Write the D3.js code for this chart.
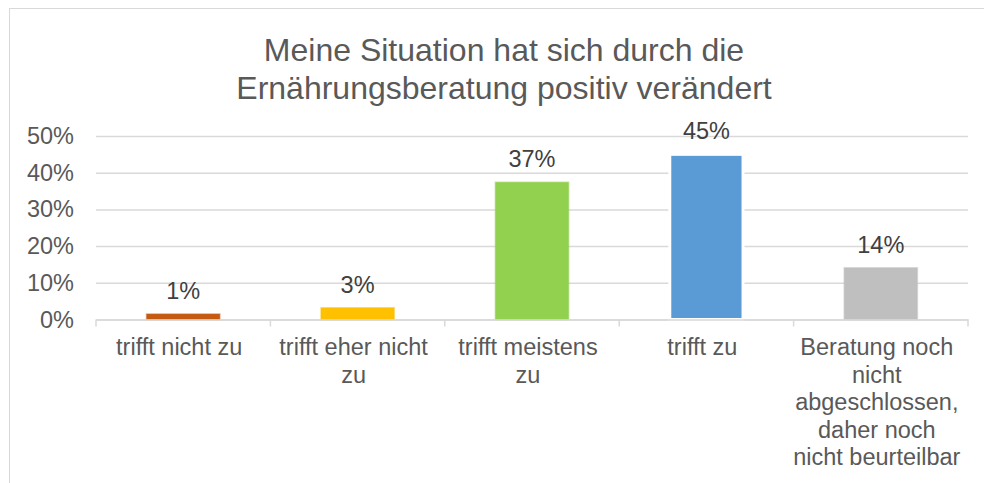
<!DOCTYPE html>
<html>
<head>
<meta charset="utf-8">
<script src="https://cdn.jsdelivr.net/npm/d3@7"></script>
<style>
  body { margin: 0; background: #fff; }
  text { font-family: "Liberation Sans", Arial, sans-serif; }
</style>
</head>
<body>
<div id="chart"></div>
<script>
// chart data
var titleLines = ["Meine Situation hat sich durch die", "Ernährungsberatung positiv verändert"];
var categories = [
  "trifft nicht zu",
  "trifft eher nicht\nzu",
  "trifft meistens\nzu",
  "trifft zu",
  "Beratung noch\nnicht\nabgeschlossen,\ndaher noch\nnicht beurteilbar"
];
var values = [0.0149, 0.032, 0.374, 0.450, 0.141];
var barColors = ["#C55A11", "#FFC000", "#92D050", "#5B9BD5", "#BFBFBF"];
var yTicks = [0, 0.1, 0.2, 0.3, 0.4, 0.5];

var width = 984,
    height = 483;

var plot = {left: 96, right: 968, top: 136, bottom: 319.5};

var svg = d3.select("#chart")
  .append("svg")
  .attr("width", width)
  .attr("height", height);

// chart area border (only top/left visible in the picture)
svg.append("rect")
  .attr("x", 9.5)
  .attr("y", 8.5)
  .attr("width", 1000)
  .attr("height", 500)
  .attr("fill", "none")
  .attr("stroke", "#D9D9D9")
  .attr("stroke-width", 1);

// title
svg.append("text")
  .attr("x", 504)
  .attr("y", 61)
  .attr("text-anchor", "middle")
  .attr("fill", "#595959")
  .style("font-size", "32px")
  .selectAll("tspan")
  .data(titleLines)
  .enter()
  .append("tspan")
  .attr("x", 504)
  .attr("dy", function(d, i){ return i === 0 ? 0 : 38; })
  .text(function(d){ return d; });

var x = d3.scaleBand()
  .domain(categories)
  .range([plot.left, plot.right])
  .paddingInner(0)
  .paddingOuter(0);

var y = d3.scaleLinear()
  .domain([0, 0.5])
  .range([plot.bottom, plot.top]);

// gridlines + y labels
var yAxis = d3.axisLeft(y)
  .tickValues(yTicks)
  .tickFormat(d3.format(".0%"))
  .tickSize(-(plot.right - plot.left))
  .tickPadding(22);

var gy = svg.append("g")
  .attr("transform", "translate(" + plot.left + ",0)")
  .call(yAxis);
gy.select(".domain").remove();
gy.selectAll(".tick line")
  .attr("stroke", "#D9D9D9")
  .attr("stroke-width", 1.5);
gy.selectAll(".tick text")
  .attr("fill", "#595959")
  .style("font-size", "23.5px")
  .style("font-family", "'Liberation Sans', Arial, sans-serif");

// bars
var barW = x.bandwidth() * 0.42;
svg.append("g")
  .selectAll("rect")
  .data(values)
  .enter()
  .append("rect")
  .attr("x", function(d, i){ return x(categories[i]) + (x.bandwidth() - barW) / 2; })
  .attr("y", function(d){ return y(d); })
  .attr("width", barW)
  .attr("height", function(d){ return y(0) - y(d); })
  .attr("fill", function(d, i){ return barColors[i]; })
  .attr("stroke", function(d, i){ return i === 3 ? "#FFFFFF" : barColors[i]; })
  .attr("stroke-opacity", function(d, i){ return i === 3 ? 1 : 0.5; })
  .attr("stroke-width", function(d, i){ return i === 3 ? 3 : 1.5; });

// category axis at zero
var xAxis = d3.axisBottom(x)
  .tickSize(0)
  .tickFormat("");
var gx = svg.append("g")
  .attr("transform", "translate(0," + y(0) + ")")
  .call(xAxis);
gx.select(".domain")
  .attr("stroke", "#D9D9D9")
  .attr("stroke-width", 1.5);

// tick marks between categories
var bounds = categories.map(function(c){ return x(c); }).concat([plot.right]);
gx.selectAll(".sep")
  .data(bounds)
  .enter()
  .append("line")
  .attr("class", "sep")
  .attr("x1", function(d){ return d; })
  .attr("x2", function(d){ return d; })
  .attr("y1", 0)
  .attr("y2", 7)
  .attr("stroke", "#D9D9D9")
  .attr("stroke-width", 1.5);

// category labels (wrapped as in the original)
var labels = svg.append("g")
  .selectAll("text")
  .data(categories)
  .enter()
  .append("text")
  .attr("text-anchor", "middle")
  .attr("fill", "#595959")
  .style("font-size", "23.5px")
  .attr("y", 355);

labels.each(function(c){
  var cx = x(c) + x.bandwidth() / 2 - 4;
  d3.select(this)
    .selectAll("tspan")
    .data(c.split("\n"))
    .enter()
    .append("tspan")
    .attr("x", cx)
    .attr("dy", function(d, i){ return i === 0 ? 0 : 27.6; })
    .text(function(d){ return d; });
});

// data labels
svg.append("g")
  .selectAll("text")
  .data(values)
  .enter()
  .append("text")
  .attr("x", function(d, i){ return x(categories[i]) + x.bandwidth() / 2; })
  .attr("y", function(d){ return y(d) - 15; })
  .attr("text-anchor", "middle")
  .attr("fill", "#404040")
  .style("font-size", "23.5px")
  .text(function(d){ return d3.format(".0%")(d); });
</script>
</body>
</html>
